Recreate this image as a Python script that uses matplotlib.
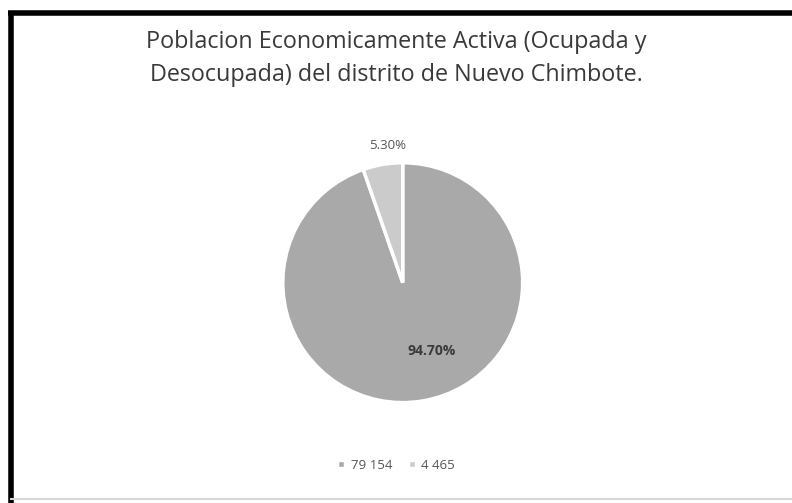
import matplotlib.pyplot as plt
from matplotlib.lines import Line2D

# datos: poblacion ocupada y desocupada
valores = [79154, 4465]
etiquetas = ["79 154", "4 465"]
porcentajes = ["94.70%", "5.30%"]
colores = ["#a9a9a9", "#cbcbcb"]

titulo = "Poblacion Economicamente Activa (Ocupada y\nDesocupada) del distrito de Nuevo Chimbote."

plt.rcParams['font.family'] = ['Open Sans', 'DejaVu Sans']

fig = plt.figure(figsize=(7.92, 5.03), dpi=100)
fig.patch.set_facecolor("white")

# marco del grafico escaneado: arriba e izquierda negros, abajo tenue
fig.add_artist(Line2D([0.010, 1.0], [0.975, 0.975], transform=fig.transFigure,
                      color="black", linewidth=4, solid_capstyle="butt"))
fig.add_artist(Line2D([0.014, 0.014], [0.0, 0.979], transform=fig.transFigure,
                      color="black", linewidth=4, solid_capstyle="butt"))
fig.add_artist(Line2D([0.014, 1.0], [0.008, 0.008], transform=fig.transFigure,
                      color="#d8d8d8", linewidth=1.5))

fig.text(0.5, 0.883, titulo, ha="center", va="center", fontsize=16.8,
         color="#3a3a3a", linespacing=1.5)

# eje del pie: radio ~120 px, centro ~ (403, 282)
ax = fig.add_axes([0.319, 0.140, 0.379, 0.596])
wedges, _ = ax.pie(valores, colors=colores, startangle=90, counterclock=False,
                   wedgeprops=dict(edgecolor="white", linewidth=2.5))
ax.set_aspect("equal")

# etiquetas de porcentaje
ax.text(0.24, -0.57, porcentajes[0], ha="center", va="center", fontsize=10,
        fontweight="bold", color="#3a3a3a")
ax.text(-0.125, 1.14, porcentajes[1], ha="center", va="center", fontsize=9.5,
        color="#555555")

leg = fig.legend(wedges, etiquetas, loc="center", bbox_to_anchor=(0.5, 0.075),
                 ncol=2, frameon=False, fontsize=9.5, handlelength=0.6,
                 handleheight=0.6, handletextpad=0.4, columnspacing=1.2)
for t in leg.get_texts():
    t.set_color("#555555")

fig.savefig("out.png", dpi=100, facecolor="white")
